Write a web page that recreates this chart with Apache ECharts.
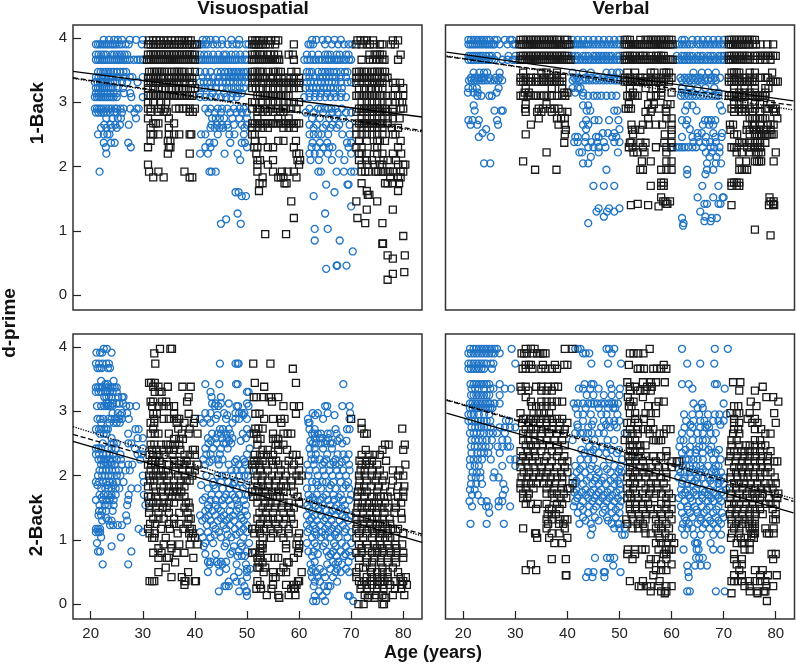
<!DOCTYPE html>
<html><head><meta charset="utf-8">
<script src="https://cdn.jsdelivr.net/npm/echarts@6/dist/echarts.min.js"></script>
<style>html,body{margin:0;padding:0;background:#fff}#c{width:796px;height:665px}</style></head>
<body><div id="c"></div>
<script>
// rows: [d-prime, [ages...]]
const visOneBlue = [
[3.97,[22.5,23.5,24.5,25.2,26,27.5,28.7,30,41.5,42.2,43,44,45.2,47,48.5,62.5,63.3,64.5,65.5,66.8,68]],
[3.9,[21,21.4,21.8,22.2,22.6,23,23.4,23.8,24.2,24.6,25,25.5,26,26.7,27.3,29.8,41,41.5,42,42.5,43.5,44.3,45.2,46.3,47.2,48,48.5,49.8,50.3,61.8,62.2,62.7,65,66.3,67.5,68.6,69.5,70.2]],
[3.74,[21,21.5,22,22.5,23,24,24.5,25,25.5,26,26.5,27,41,41.8,42.5,43.5,44.5,45.5,46,47,47.8,48.7,49.7,61.5,62.5,63.7,65,65.5,66,67.2,67.8,69,69.5]],
[3.66,[21,21.4,21.8,22.2,22.6,23,23.4,23.8,24.2,24.6,25,25.4,25.8,26.2,26.6,27,27.5,28.3,29,29.5,30,40.8,41.2,41.6,42,42.4,42.8,43.2,43.6,44,44.4,44.8,45.2,45.6,46,46.4,46.8,47.2,47.6,48,48.4,49,49.6,50,61,61.6,62.2,62.8,63.2,63.8,64.4,65,65.4,65.8,66.2,66.8,67.2,67.6,68,68.6,69,69.6,70]],
[3.47,[21.4,21.9,22.4,22.9,23.4,23.9,24.4,25,25.7,26.3,26.8,41,42,43,44.3,45,45.8,46.4,46.9,47.4,47.9,48.4,48.9,49.4,49.9,61.5,62,62.5,63.6,64.4,65,65.5,66,66.6,67.2,68,68.8,69.3]],
[3.39,[21,21.5,22,22.5,23,23.5,24,25,25.5,26.5,27.5,28,30,41.5,42.5,43.5,44.5,45.5,46,46.5,47,47.5,48,48.5,49,49.5,50,61.3,62,63,64,64.6,65.2,65.8,66.4,67,68,69]],
[3.31,[20.8,21.3,21.8,22.3,22.8,23.3,23.8,24.3,25,26,27,29,41,41.7,42.4,43.1,44,44.6,45.3,46,46.7,47.4,48.2,49,49.7,61.5,62.2,62.9,63.6,64.2,65,65.7,66.3,67,68,69.3,70]],
[3.22,[21,21.4,21.8,22.2,22.6,23,23.4,23.8,24.2,25.2,26.2,41.3,42,43,44,45.3,46.2,47,47.8,48.6,49.4,61.2,62,62.7,63.3,64,64.8,65.4,66,66.6,67.4,68.2]],
[3.14,[21,21.5,22,22.6,23.2,23.8,24.4,25,26.4,27.6,41,43.4,45.6,47.3,48.3,49,62,63.2,64.2,65.4,66.6,68.2]],
[3.08,[20.8,21.2,21.6,22,22.4,22.8,23.2,23.6,24,24.4,25,27.8,30,41,42,43,44,45,46,47,48,61,62,63,64,65,66,67,68,69]],
[2.9,[20.8,21.2,21.6,22,22.5,23,23.5,24,24.6,25,25.7,26.3,27.6,28.8,29.2,42,43,44.4,45.2,46.2,47.5,48.6,49.4,62,63.6,64.2,65,65.6,66.2,67,68.2]],
[2.84,[21,21.5,22,22.5,23,23.7,24.5,25,26,28.4,42.6,43.8,45,46.8,48,49,50,61.3,62.8,64.6,66.4,67.4,69,70]],
[2.75,[23,24.2,25.2,25.8,28.7,43.3,44,44.8,45.6,47.2,48.5,50,62.5,64,65.8,66.8,68.4]],
[2.65,[22.6,23.8,24.7,25.6,27.3,43.2,44.2,45.2,46.2,47.5,49,50,62,63.4,65.2,66.4,67.7,69.7]],
[2.6,[22,23,24,25,43,43.8,44.7,45.4,46.4,49.5,62.8,64.6,66,67.2]],
[2.5,[21.4,22.5,23.2,23.6,41.2,42,44.4,46.6,47.6,49.4,62,62.8,63.7,64.3,65.6,68.3,69.7]],
[2.37,[22.5,23.9,24.6,27.2,42.8,43.7,46.8,49,49.6,62.6,64,65.4,69.2,70]],
[2.3,[22.9,27.7,42,43,50,62.4,63.3,64.7,65.8,66.4,69.5]],
[2.2,[23,41,42.5,45.7,48.2,62,63,64,65.5,67.7,70]],
[2.1,[48.7,62.2,63.8,66.3,68.7]],
[1.92,[21.7,42.8,43.2,44,63.7,64.2,67.2,68.6,70,70.6]],
[1.72,[65.2,69.3,69.5]],
[1.6,[47.8,66.8,48.4]],
[1.54,[49,49.8,62.8]],
[1.38,[70]],
[1.27,[65,48.2]],
[1.18,[46]],
[1.11,[45,48.8]],
[1.03,[63,65.5]],
[0.85,[63,67.8]],
[0.68,[70.3]],
[0.46,[67.2,67.3,67.3,69.1]],
[0.41,[65.2]]
];
const visOneBlack = [
[3.96,[31.2,32,32.6,33.2,34,34.8,35.5,36.2,37,37.5,38,38.7,39.2,51,51.6,52,52.4,53,54,54.6,55.5,56,71.2,71.8,72.5,73,74.2,78,79]],
[3.9,[31,31.5,32,32.5,33,33.5,34,34.5,35,35.5,36,36.5,37,37.5,38,38.5,39,39.5,40,40.4,51,51.4,51.8,52.2,52.6,53,53.6,54.4,55.4,59,71,72,73,73.6,74.4,75.5,76,77.6,78.4]],
[3.74,[31,31.5,32,32.5,33,33.5,34,34.5,35,35.5,36,36.5,37,37.5,38,38.5,39,39.5,40,51,51.5,52,52.5,53,54,54.5,55.2,56,58,58.8,73.5,74.5,75,75.5,76,79.5]],
[3.66,[30.8,31.2,31.6,32,32.4,32.8,33.2,33.6,34,34.4,34.8,35.2,35.6,36,36.4,36.8,37.2,37.6,38,38.4,38.8,39.2,39.6,40,51,51.4,51.8,52.2,52.6,53,53.4,53.8,54.2,54.6,55,55.4,55.8,56.2,59,72,73.6,74.2,74.8,75.4,76,76.4,79]],
[3.47,[31.2,31.7,32.2,32.7,33.2,33.7,34.2,34.7,35.5,36,36.5,37,37.5,38,39,40,51,51.5,52,52.5,53,54,55,55.5,56,56.5,58.5,59.5,71,71.5,72,72.5,73,74,74.5,75,75.5,76,76.5]],
[3.38,[31,31.5,32,32.5,33,33.5,34,35,35.5,36,36.5,37,37.5,38,38.5,39,39.5,51,51.5,52,52.5,53,53.5,54.5,55,56,57,58,59,60,71,71.5,72,72.5,73,73.5,74,74.5,75,76,76.5,77]],
[3.3,[31,31.5,32,32.5,33,34,34.5,35,35.5,36,36.5,37,38,39,39.5,51,51.5,52,53,54,54.5,55,55.5,56,56.5,57,57.5,58,58.5,59,59.5,60,71,72,73,74,74.5,75,75.5,76,78,78.5,79.4]],
[3.22,[31,32,33,33.7,34.4,35,35.5,36.4,37,37.5,38.2,39.2,40,51,51.7,52.4,53,54,55,56,57,58,59,60,71.5,72.5,73.5,74,74.7,75.2,76,78.4,80]],
[3.1,[31,31.5,32,32.5,33,33.5,34,34.5,35,35.5,36,36.5,37,37.5,38,38.5,39,39.5,52,52.5,53,53.5,54,54.5,55,55.5,56,56.5,57,57.5,58,71,71.5,72,72.5,73,73.5,74,74.5,75,75.5,76,77,78,79,80]],
[3.0,[31,32,33.5,34.5,51,51.5,53,54,55,56,57,58,59,60,72,73,74,75,76,77,78.5,79.3,79.8]],
[2.9,[31,31.5,33,33.5,34.3,36.3,37,37.8,38.3,39,40,51,52,52.5,53.5,54.5,55.5,56,57,57.5,58.5,59.5,71.5,72,72.5,73,73.5,74,74.5,75,75.5,76,76.5,78,79.5,80]],
[2.85,[31.5,33,34,34.6,39,39.6,52,53,54,55,56.4,57,71,72,73,74,75,75.5,76,76.6,77,78]],
[2.75,[31,35,52,56,58,72,73,74,75,76,77,78,79.3]],
[2.67,[32,32.5,33,36,51,51.5,52,52.5,53,53.5,54,54.5,55,55.5,56,56.5,57,57.5,58,58.5,59,59.5,60,71.5,72,72.5,73,73.5,74,74.5,75,75.5,76,77]],
[2.6,[31.5,35,51,52,53,54,57,58,59,71,72,73,74,75,76,77.8,79]],
[2.5,[31.5,32,33,35,36,37,39,39.3,51,51.5,71,72,73,74,75,76,78,78.5]],
[2.4,[31.5,34.8,35.3,51.5,53,56,57,59.4,71.5,73,75,75.5,76.5,79.5]],
[2.3,[31,35,35.3,51.4,52,54,55,59,71,72,74.5,75,79]],
[2.2,[34.8,39,51.8,59.5,60,71.5,72,73,75,76,78,79.6]],
[2.1,[52,52.5,55,59.7,60.2,71.5,73,74,76.2,77,78.6]],
[2.03,[31,52,54,60,72,73,74.5,75.5,76,79,80,80.4]],
[1.92,[31.2,33,38,52,55,56.7,57.8,59,72,72.7,73.3,74.8,75.2,75.8,76.2,77,77.4,78,79.5,80]],
[1.83,[32,34,39,39.5,53,56,56.5,57,59.5,79.5,77.5,79]],
[1.74,[52.4,53,57.2,57.6,72,76.5,77,78,79.2]],
[1.62,[52.3,73,79]],
[1.56,[73.2,73.5]],
[1.46,[58.5,71,75]],
[1.33,[73,78]],
[1.2,[59,71.2]],
[1.12,[72.7,76]],
[0.95,[53.5,57.5]],
[0.92,[80]],
[0.8,[76,76.1,76.1]],
[0.62,[77,80.3]],
[0.57,[78]],
[0.36,[80.2]],
[0.33,[78]],
[0.24,[77]]
];
const verOneBlue = [
[3.97,[21,21.5,22,22.5,23,23.5,24,24.5,25,26,26.5,28,29,29.4,41,42,43,44,45,46,47,48,49,50,62,62.5,64,65,66,67,68,69,70]],
[3.9,[21,21.4,21.8,22.2,22.6,23,23.4,23.8,24.2,24.6,25,25.4,25.8,26,27,28.5,29.6,30,40.8,41.2,41.6,42,42.4,42.8,43.2,43.6,44,44.5,45,45.5,46,46.5,47,47.5,48,48.5,49,49.5,50,61,61.5,62,62.5,63,63.5,64,65,65.5,66,66.5,67,67.5,68,68.5,69,69.5,70]],
[3.72,[21,21.4,21.8,22.2,22.6,23,23.4,23.8,24.4,25,25.5,26.5,28.7,30,41,41.5,42,43,43.5,44,45,45.5,46,46.5,47,47.5,48,48.5,49.5,50,61,62,62.5,63,63.5,64,65,65.5,66,67,67.5,68,69,69.5,70]],
[3.66,[21,21.5,22,22.5,23,23.5,24,24.5,25,25.5,26,27.5,28.5,29.5,30,41.5,42,42.5,43,43.5,44,44.5,45,45.5,46,46.5,47,47.5,48,48.5,49,49.5,50,61,61.5,62,62.5,63,63.5,64,64.5,65,65.5,66,66.5,67,67.5,68,68.5,69,69.5,70]],
[3.46,[22,23.1,24,24.6,27,41,43,44.5,47.5,48.5,49.5,50,64.2,65.8,67,68.5]],
[3.38,[21.5,22.2,22.9,23.5,24,25,26.2,27,41.3,42,43.4,44.6,45.8,47,48,49,61.7,62.5,63.2,64,64.7,65.5,66.5,67.5,68.3,69.3]],
[3.34,[21.1,21.6,22.1,22.6,23.1,23.6,24,24.6,25.3,26,26.7,27.5,41,41.7,42.3,42.9,43.5,44.2,44.8,45.5,46.2,46.9,47.6,48.3,49,49.5,50,62,62.8,63.5,64.3,65,65.7,66.4,67,67.7,68.5]],
[3.22,[21,21.8,22.6,26.8,41,42,42.5,62,63.5,65,66.5,68.2]],
[3.15,[20.9,22,22.8,26.4,41.5,43,62,63,64,69]],
[3.1,[22.7,23.5,25,25.5,43,44,45,45.7,46.5,47.5,48.5,49.4,61.8,62.5,63.3,64,64.7,65.5,66.2,67,67.8,68.5,69]],
[2.95,[22,43,44,63,64,69.3]],
[2.87,[22.2,26,27.3,27.6,43.7,44.4,49,49.6,62.6,64.8,69.7]],
[2.72,[21,21.8,23,26.5,43.6,45.2,46,48,49.8,62,63,66.4,67,67.6,68.4]],
[2.65,[21.4,22.7,26.7,43,44,66,67.2,68,62.8]],
[2.58,[24.4,43.6,50,63.5]],
[2.52,[23.7,46.8,47.8,49,65,65.8,68,69.7]],
[2.46,[23,25.3,41.5,42,43.5,45.5,46,48.6,49.4,62,64,65,66.6,68.4,69.6]],
[2.38,[41.3,42,43.4,44.6,45.7,47,49,50,64.2,65.3,66.5,67.4,68.5]],
[2.3,[44,45,46,47.3,60,61,61.5,62,62.5,63.2,64,64.7,66,67.5,68.2,69.2]],
[2.22,[42.3,42.8,46,49.7,66.6,67.7,69.2]],
[2.15,[44.5,67.3,68.6]],
[2.05,[24,25.2,43,44,66.8,68.5,69.5]],
[1.95,[47.5,63,66.8,68]],
[1.88,[63,66.5]],
[1.7,[45,47,49,65.9,69]],
[1.52,[65,68,69.8,70]],
[1.42,[66.3,66.8,69,69.4]],
[1.35,[46,48,50]],
[1.3,[45.6,47.6,49,65.5]],
[1.22,[47,66.5]],
[1.2,[62,67.7,68.7]],
[1.15,[66.3,67.5]],
[1.12,[44,62.3]],
[1.08,[62.2]]
];
const verOneBlack = [
[3.97,[31,31.5,32,32.5,33,33.5,34,34.5,35,35.5,36,36.5,37,37.5,38,38.5,39.5,40,51,51.5,52,54,55,55.5,56,56.5,57,57.5,58,58.5,59,59.5,60,71,71.5,72,72.5,73,73.5,74,74.5,75,75.5,76]],
[3.9,[30.8,31.2,31.6,32,32.4,32.8,33.2,33.6,34,34.4,34.8,35.2,35.6,36,36.4,36.8,37.2,37.6,38,38.4,38.8,39.2,39.6,40,40.4,51,51.4,51.8,52.2,52.6,53,53.4,53.8,54.2,54.6,55,55.4,55.8,56.2,56.6,57,57.4,57.8,58.2,58.6,59,59.4,59.8,60.2,71,71.4,71.8,72.2,72.6,73,73.4,73.8,74.2,74.6,75,75.6,76.2,77,78.4,79.5]],
[3.72,[31,31.5,32,32.5,33,33.5,34,34.5,35,35.5,36,36.5,37,37.5,38,38.5,39,39.5,40,51,51.5,52,52.5,53,54,54.5,55,56,57,57.5,58,58.5,71,71.5,72,72.5,73,73.5,74,74.5,75,76,76.5,77,77.5,78,78.5,79,79.5,80]],
[3.66,[31,31.4,31.8,32.2,32.6,33,33.4,33.8,34.2,34.6,35,35.4,35.8,36.2,36.6,37,37.4,37.8,38.2,38.6,39,39.4,39.8,40.2,40.6,51,51.4,51.8,52.2,52.6,53,53.4,53.8,54.2,54.6,55,55.4,55.8,56.2,56.6,57,57.4,57.8,58.2,58.6,59,59.4,59.8,60.2,71,71.4,71.8,72.2,72.6,73,73.4,73.8,74.2,74.6,75,76,77,78,79]],
[3.46,[31.5,35,36,38,51.5,53,56,56.7,58.5,59,59.5,71.5,72,72.5,73,75,76,79.3]],
[3.38,[31,32,33,34,35.5,36.5,37,38,39,51,52,53,54,55,56,57,58,59,60,71,72,73,74,75,76,77,78,78.5]],
[3.32,[31,31.5,32,32.5,33,34,34.5,35,35.5,36,36.5,37,37.5,38,38.5,39,51,51.5,52,52.5,53,53.5,54,54.5,55,55.5,56,56.5,57,57.5,58,58.5,59.5,71,71.5,72,72.5,73,73.5,74,74.5,75,75.5,76,79,79.5,80,80.4]],
[3.22,[32,37,39,52,55,57,58,72,74,76,78,78.6]],
[3.15,[31.8,32.6,39.4,40,52.6,58,60,72,73,74,75,76,78]],
[3.1,[31,31.5,32.5,33,33.5,34,35,35.5,36,37,38,39,39.6,51.5,52,52.5,53,53.5,56,57,58,71,71.5,72,72.5,73,73.5,74,75,75.5,76,76.5,77,77.5,78]],
[2.97,[32,36,51.8,55.5,56.6,59.2,59.8,72,73,74,76,77,79]],
[2.9,[31.9,34.5,35.3,36.7,37.5,38.3,51.2,51.7,52.2,56.2,57.6,58.9,71.5,72,73,73.5,74,75,76,78,78.6,79.5,80]],
[2.85,[32,34.2,35,37,39,40,55,56,59,72,73.5,74.2,75.5,77,79.7,80]],
[2.75,[34.5,38,38.8,39.5,55.5,59,60,75,75.5,76,77,77.5,78,80.3]],
[2.65,[33,38.3,39.5,52.3,54.5,55.6,57,58.2,60,71.2,71.8,74.5,75.5,76,77,78.5,79,79.6]],
[2.57,[39.7,52.4,53,54,60,71.3,74.4,75,75.8,76.2,76.8,77,77.8,78.2,79]],
[2.5,[32,39.5,52.6,58.7,60,72,72.6,75,76,76.4,76.8,77.2,78,78.4,78.8,79.2,79.6]],
[2.37,[39.4,52,52.3,54,55,58.6,60,73,73.5,74,75,76,76.5,77,78]],
[2.3,[51.8,52.5,54.5,57,59,60,71.5,72,72.5,74.5,75.3,76,76.5,77]],
[2.22,[36,52.7,53.4,54.8,59,72.5,73.5,75,76.2,76.7,77.2,80]],
[2.08,[31.5,54.3,56,59,60,73,74.3,76,76.4,76.8,77.2,79.6]],
[1.95,[33.8,37.9,54,54.5,58,59,60,73,73.5,74,74.5]],
[1.75,[58,58.5,71.5,72,72.5,73]],
[1.7,[56,58,58.5,71.5,72.5,73]],
[1.52,[58,78.8]],
[1.46,[58.4,58.8,59.7,79,79.6]],
[1.42,[53.5,59,59.2,79.5]],
[1.4,[52.2,55.5,71.5,78.7,79.7]],
[1.38,[57.5]],
[1.02,[76]],
[0.93,[79]]
];
const visTwoBlue = [
[3.97,[22.5,23.1]],[3.91,[21.1,21.8,22.2,24]],[3.74,[21,21.6,22.3,23,23.5,44.8,47.8,48.2,48.4]],[3.67,[21.3,21.7,22.1,23.3,23.7]],
[3.47,[22,24.4]],[3.42,[22.8,23.3,44.7,47.9,48.2,42,68.5]],
[3.37,[21,21.4,21.8,22.2,23,23.4,23.8,24.2,24.6,25]],[3.3,[21,21.5,22,22.8,23.2,23.7,24.2,25,43,50,50.3]],
[3.22,[22.6,23,23.5,24,25.3,26,26.3,43.2,45]],[3.12,[23,23.4,24.2,25,25.5,26.2,43.3,44,45,46.5,50]],
[3.08,[21.2,22,22.6,23,23.4,23.8,24.2,26.8,27.5,28.7,43.8,44.5,48,48.3,50.3,65,65.4,68.3,69.7]],
[2.97,[24.2,25.2,26,27,42,43,45.6,47.8,48.5,49,49.5,62.6,63.6,65.5,69.8]],
[2.88,[21.3,21.8,22.4,23.4,24,24.6,25,25.5,26,27.3,41,42.4,44,46,47.8,48.5,50,61.7,64.6,69.7]],
[2.82,[22,23.6,24.4,25,25.6,41.6,43,47.2,61.8,62]],
[2.72,[21,21.6,22,22.6,23,23.3,28.6,29.2,44.8,45.4,46.5,50,62,63,67,69.7,69.2]],
[2.65,[21.8,22.5,23,27.2,43.3,44.4,45,46,46.8,49.2,50.6,62.5,63,63.6,64.2,65.5,66,67.2]],
[2.58,[24,29,30,42.5,44,45.2,46.2,47.2,49.8,63,64,64.5,65.6,67.8]],
[2.5,[22.3,24,24.4,25,27.2,27.8,42.6,44.2,45.5,46,47,62.6,63.2,64.2,65,66,66.5,68.3]],
[2.42,[21,21.5,22,23.3,24,24.8,28.5,30,42,43.5,45,46.3,50.5,62,63,64.6,66.3]],
[2.33,[21,21.6,22.4,23,23.6,24.4,25.7,29,29.8,42.2,43,44.8,50,62.3,63.2,65.4,67.4,68.5,69.5]],
[2.25,[21.5,22,22.5,23,23.6,24.2,25,25.8,29.5,41.6,43.4,44.4,45.3,48,49.3,62.4,63,64,65.2,67,69]],
[2.17,[22,22.5,23.2,24,24.6,26,27.2,28,42,44.6,46.5,48.4,49.7,61.6,62.8,64.5,66,67,67.7,69.6]],
[2.08,[21.7,22.3,23,23.5,24.1,24.8,25.4,26.7,27.5,47,48,49,50.4,62,63.2,64.7,65.8,67.3,68.4,69.7]],
[2,[21.4,22.2,22.8,23.4,24,25,25.7,30,42.2,44.3,45.2,46,47.3,48.5,49.5,50.2,61.8,63.6,65,66.4,67.7,69]],
[1.9,[21,21.6,22.4,23,23.6,24.2,25,26.3,30.2,43.5,45,46.4,47.6,48.8,62.5,63.3,64.5,65.2,66.6,68,69.4]],
[1.8,[22,22.8,23.4,24,24.8,25.5,27.8,29,42.5,44,45.3,46.7,48,49.2,61.5,62.5,64.2,65.8,67,68.5,69.6]],
[1.7,[21.7,22.5,23.3,24,24.8,27.3,30.2,43.2,44.6,46,47.2,48.5,49.7,50.2,61.8,63.4,65.2,66.6,68,70]],
[1.62,[21,22.3,23,23.6,24.4,27.2,41.5,43,44,45.2,46.5,48,49.4,62,63,64,65.6,66.7,68.4,69.6]],
[1.54,[21.7,22.7,23.4,24.4,27,30.5,42.5,44,45.5,47,48.2,49.8,61.6,63.2,64.5,66,67.2,68.8]],
[1.45,[21.6,22.2,23,24.2,42,43.4,45,46.7,48,49.6,62.5,64,65.2,66.4,67.6,69]],
[1.38,[21.5,22,26.8,41,42.6,44,45.6,47.3,48.8,50,61.5,63,64.3,65.7,67,68.3,70]],
[1.3,[22.2,23.4,24,27,41.4,43,44.4,46,47.5,49.4,62,63.4,64.8,66.2,67.8,69.4]],
[1.23,[23.7,24.3,25.2,26,42.3,43.5,45.5,46.7,48.5,50,61.5,62.8,64,65.6,66.8,68.4]],
[1.17,[21,21.4,21.8,29.2,44,46,47.7,49.3,62,63.2,65,66.3,67.5,69]],
[1.12,[21,21.5,21.8,30,41,42.5,44.6,48.6,50,61.6,63,64.4,65.7,67.2,68.8,70]],
[1.04,[22,25.8,41.5,43,45,47,49.3,62.5,64.2,66,67.6,69.3]],
[0.95,[21.2,42,43.5,46,48.8,50.4,61.5,63,65,66.7,68.2,70]],
[0.9,[24,41.7,45.7,47.5,49,63.4,64.6,67,69]],
[0.82,[21.4,21.8,27.8,47.2,48.4,50,61.8,62.8,65.3,66.5,68,69.6]],
[0.75,[48.2,49,49.6,62.5,65.7,67.2,68.6,70]],
[0.66,[42.5,43,44.2,45,46,63,66.5,67.5,69.5]],
[0.62,[22.3,27.2,42.8,44.5,45.3,48,49.8,62.2,65.4,67,68.2]],
[0.55,[46,50,50.6,62.5,64,66,67.3,69]],
[0.5,[42.5,44.7,48.4,50,62.3,63.2,64.7,67,68,69.6]],
[0.42,[47.5,50,62.5,63.5,65,66.5]],
[0.35,[46.5,48,49,63,64,67.3]],
[0.28,[45.7,46,46.5,49.5,62.8,64.8,65.6,66]],
[0.2,[44.6,48.5,49.8,50,63.8,65.3]],
[0.13,[50,63,64.5,69.4,69.7]],
[0.05,[62.7,63.3,65,70.4]],
[2.94,[25.7,44.3,46.2,49.3,63.1,66.8]],[2.54,[43.1,46.6,48.8,62.2,65.2,67.4,69.1]],
[2.21,[22.7,23.9,42.8,47.7,49.6,64.8,66.6,68.2]],[1.85,[21.3,23.2,24.4,41.2,43.6,47.3,49.9,63.6,66.1,69]],
[1.66,[22.1,23.9,42,45.7,47.7,62.6,64.6,67.6]],[1.49,[42.6,44.4,48.5,61.9,63.7,66.9,68.2]],
[1.34,[23,42,45,46.6,49,62.4,65.1,68.9]],[1.08,[43.8,46.3,47.9,63.3,65,66.9]],[0.78,[42,44,46.8,63.6,66.1,68.9]]
];
const visTwoBlack = [
[3.97,[33.3,35.3,35.6]],[3.9,[32.2]],[3.74,[32.4,51.2,54.5]],[3.66,[58.8]],
[3.44,[31.2,31.6,32.3,51.5,59.4]],[3.38,[32,33,34.8,37.6,39.2,53.3]],[3.3,[32.3,33.6,33.2]],
[3.22,[38.8,51.3,51.8,53.2,54.2,54.6,56]],[3.15,[31.5,32,33.7,34.5,38.5,54.8]],[3.08,[31.8,33,34,35,36,57,59,60]],
[2.96,[32,32.7,36,38.8,51.6,52.4,59.4]],[2.88,[32.2,34,35,36,36.6,37,40,53.3,55,56.5,57.2,70]],[2.82,[31.5,32.2,36.5,38,39.8,56.6,72]],
[2.73,[32,36.8,39,51.6,52.2,53,72,79.8]],[2.65,[31.5,32.3,33,35,37.5,38.8,40.5,51.3,51.8,55,57,57.8,58.5,72.5,73]],
[2.57,[36,37,37.7,52,52.6,55,55.5,56]],[2.48,[31.5,32.2,33.5,34.5,35.3,36.2,37,52,55.5,56,57,76.5,77.2,80.3]],
[2.4,[31.8,32.6,34,35,36,37.2,39.6,40,53,54,56,57.7,72.8,76,80]],
[2.32,[31.3,32,33,34,35.7,38,39,40,51.5,52.5,53.2,54,55,58.8,59.5,72,73.5,74.5,75.5]],
[2.23,[31.8,32.4,33.2,36,37.3,38.4,51.3,52,53,54.8,55.6,58,60,71.6,73,74,76.7]],
[2.17,[31,31.6,32.4,33.4,35,36,37,38,39,40.5,51,51.6,52.4,53.6,55,56,57.3,59,72,72.8,73.5,75,80.4]],
[2.08,[31.5,32.5,33.5,34.5,36.2,37.6,39,40,51.3,52.5,54,56.5,58.6,60,71.8,72.6,74,75.5,78,79.3]],
[2,[31.2,32,33,34,35,36.8,38,39.5,52,53,54.8,56,57.5,59.5,60.5,71.5,72.6,74,75,76.3,79,80]],
[1.92,[31.4,32.2,33.4,34.6,36,37.3,38.4,39,51.5,52.8,54,55.6,57,58.5,60,71.6,73,74.7,76,78]],
[1.83,[31,32,34,35,36,37,38,52,53,54,55.5,56.5,57.5,58.5,71.5,72.5,73.8,75.3,76.5,79,80.2]],
[1.75,[32.5,33.5,35,35.8,36.6,37.4,51,51.6,52.3,53.4,54.8,56,57,59,71.3,72,73,75,77.5,80]],
[1.67,[31,31.6,32.6,34,35.6,36.3,37,38,51.2,52,53,54,55,55.7,56.3,59.7,71.2,72.5,74,75,75.7,76.3,77,79,80]],
[1.58,[31.2,32,33,34,35,36,38.3,38.8,52,53.5,54.5,55.5,57,58,60,71.3,72.2,73.4,74.4,75.3,76.5,78.5,79.6]],
[1.5,[31.3,32.5,33.8,34.6,38,39,53,54,55.4,56.6,58,59,71.2,72,73,74,75,76,77,78.6]],
[1.42,[31.2,33,35,37,38.6,52.4,53.6,55,57,58.4,71,72.3,73.6,74.8,76.4,78.3,79.6]],
[1.33,[32,33,34,36,38.8,39.2,52,53,54,55,56,57.5,58.5,71,72,73,74,75,76,77.4,79.7]],
[1.25,[31.4,32.4,35,36,37,38.6,52.5,54,55.5,57,59,71.2,72.4,73.6,74.7,75.5,76.5,77.5]],
[1.17,[31,33.5,35.2,37.8,39,39.4,51,51.6,52.3,53.3,54.5,56,58,71,72,73,74,75,76,77,78,79]],
[1.1,[31.3,32.3,36.7,38.9,39.6,51.4,52.5,55,56.6,58,60,71.5,73,74.5,75.5,76,77,80]],
[1.03,[31.8,32.2,34.4,39.3,40,53,54.6,57,59.7,71,72.3,74,75.5,76.5,77.5,78.5]],
[0.93,[34,35.4,37,39,40.5,52.5,53,57.5,59.5,60,71.5,73,74.5,75.5,77,78.5,79.8]],
[0.87,[33,35.5,52.6,53,57.5,60,72,73.3,75,76,77.3,78.7]],
[0.8,[32,33.6,36.5,38,51,51.6,52.5,59.8,71,72,74,75,76,77.6,78.6,80]],
[0.72,[33,34.6,35,39.7,52,52.5,54,55.3,56,59,71.5,73,74.5,75.7,77,78.5,80]],
[0.65,[36.2,52.2,53,57.7,58,73,74,75.7,77,78.6]],
[0.57,[34.4,52,52.4,53.5,57,71.5,72.3,74,76,78]],
[0.5,[33,38.7,53.2,55,56.5,57.5,60.5,71,73.8,75,76,77,79]],
[0.42,[35.5,37.5,55,55.5,71,73,74,75,76,77,79.5,80.5]],
[0.36,[31.3,31.8,32.2,38,38.2,40,40.2,52,59.8,60,71.5,72.5,73.7,75,75.6,76.4,77,78.5,79.5,80]],
[0.3,[38,52.5,55,57.5,59,59.5,72,73,74,75,76,77.5,79.8,80.7]],
[0.24,[51.8,52.7,54.7,58.5,59,59.2,71.8,73,75,76.2,78.4,79.6]],
[0.14,[53.8,56,58,59.3,72.6,73.5,74.7,76,78,80.2]],
[0.1,[56.2,73.2,74.5,76.4,76.7]],
[0,[71.4,72.4,76,76.3]]
];
const verTwoBlue = [
[3.97,[21.3,22,22.5,23,23.5,24,24.5,25,25.5,26,26.5,29.3,41.5,42,42.5,47.5,48,49,62,68.3,70.8]],
[3.9,[21,21.5,22,22.5,23,23.5,24,24.5,25,25.5,26,27,43,43.5,44.2,48.5]],
[3.74,[21,21.5,22,22.5,23,23.5,24,24.5,25.3,25.8,30,44.6,47.8,50.3,63,65.5,68.2]],
[3.66,[21,21.5,22,22.5,23,23.5,24,25.5]],
[3.42,[21.4,22,22.5,23,23.5,24,24.5,25,27,43.3,44.6,45,48.2,62,63.3,68.3,68.7]],
[3.35,[21.6,22.3,23,24,25.2,25.8,28,29.2,42.2,43,44.4,46,48.5,50.1,64,70.2]],
[3.25,[21.5,22,22.5,23,23.5,24,24.5,25,27,43.7,45,47,48.5,50]],
[3.12,[21.3,21.8,22.3,22.8,23.3,23.8,24.3,24.8,25.2,26,27,41.2,42,43,44,44.6,45.1,45.7,46.5,47.2,48,48.6,49,49.7,64.2,65.8,70]],
[3.05,[21.3,21.8,22.3,22.8,23.3,23.8,24.3,24.8,25.2,25.6,41.6,43.5,46,47.8,48.8,49.2,65,66]],
[2.95,[21,21.5,22,23,24,25,42,43,44.5,46.5,47.5,49.6,62.4,64,65.3,67,68.3,69.2,70.5]],
[2.85,[21,21.6,22.3,22.9,23.4,24,24.5,25.2,28.2,28.8,43,45,47,48,49,50,62.8,64.2,65.5,66.3,68,69,70]],
[2.75,[21.6,22.3,23,23.5,24,24.6,25.3,27,28,29,30,42,44,46.5,48.2,49.5,62.5,64,65.5,66.5,67.2]],
[2.66,[21.3,22,22.6,23.3,24,25,25.7,26.5,28,41.5,42.5,43,44,44.7,46,47,51,62,63.6,65,66,67.5,68.5]],
[2.55,[21.6,22.3,23,23.7,24.5,25.5,27.5,28.5,41,43.6,45.2,47.7,49,61.7,62.3,64,65.2,66,66.6,68]],
[2.45,[21.5,22.2,22.8,23.6,24.3,25,26.6,27.5,28.5,29,44.2,45.5,46.7,47.7,61.5,63.5,65.3,66,67.6]],
[2.35,[21.6,22.7,23.4,24,24.8,27,43.3,44.4,46,47.5,49.5,62,63.5,64.6,66,67.6,68.5]],
[2.25,[21.3,22,22.8,23.6,25.3,29,30,42.5,44,45,48,50.5,62,62.7,63.3,64.2,65,66,68,69.4]],
[2.15,[21.3,22.2,23,27.5,30,41.5,43,44.7,47,49,50.3,62,62.8,63.5,64.7,65.5,67,68.5,69]],
[2.05,[21.8,22.6,23.3,26,41.8,43.4,46,48.3,49.8,50.4,61.7,62.5,63.5,64.5,65.5,66.5,67.7,68.5,69.5]],
[1.97,[21.6,22.4,23.3,25.8,26.8,41,42.5,44.4,45.5,47,49,50.2,61.3,62.5,63.6,65,66,67,68,69,70]],
[1.87,[21.5,22.5,23.6,27.7,41.5,43,44.8,46,47.4,49,50,62,63,64,65,66.5,68,69,70]],
[1.78,[21.3,22.2,28,41.7,43.5,45,46.5,48.3,50,61.8,63,64.7,66,67.2,69.2,70.5]],
[1.7,[21.7,22.8,27.6,42,43.6,45.5,47,48.6,50.4,62,63.3,64.8,65.8,67,68.5,70]],
[1.6,[21.2,23.5,24.5,26.8,27.5,41.5,43,44.8,46,47.5,49,50.3,62.5,64,65.3,67,68,69.5]],
[1.52,[21.7,24.4,24.9,26.8,29,41.2,42.5,44.2,45.5,47,48.5,50,61.8,63,64.5,65.8,67.3,69]],
[1.42,[25,42,44,46.8,48.6,50,62,63.5,65,66.2,68,69.7]],
[1.35,[43,45.3,47.6,49.3,62.5,64,65.5,67,68.5,70]],
[1.25,[21.4,24.5,27.8,42.3,44.5,48.5,49.7,50,62.2,63.3,65,66.5,68,69.5]],
[1.18,[44.8,49,50,51,62,63,64,66,67.3,68.8]],
[1.08,[44.5,51,50.5,62.5,64.3,65.6,68,69.5]],
[0.95,[64.5,65,64.8,67.5]],
[0.85,[62.3,64.8,65.2,68,69.5]],
[0.72,[45.3,47.6,48.2,49,64.7,65.3,66]],
[0.6,[48.8,63,64.5,65.6,66.8]],
[0.5,[44,45,47,47.2,50.2,63.2]],
[0.42,[43.6,44.8,47.1,63.3]],
[0.2,[63,63.5,68.5,70.2]],
[2.79,[41.9,44.7,47.4,49,63.6,66.9,69.4]],[2.4,[42.7,45,48.4,49.9,62.7,64.8,67.1,69.1]],
[2.1,[42.4,44.4,45.6,47.6,50,61.4,64,66,68.1]],[1.92,[41.7,43.7,45.2,46.6,48.3,49.7,62.1,64.5,67.4,69.4]],
[1.74,[41.3,42.8,44.4,46,47.7,49.4,62.6,64.2,66.4,68,69.6]],[1.65,[41.9,44,45.2,46.7,48.1,49.7,61.4,63.6,65.9,67.6,69.1]],
[1.47,[43,45,47.2,49.3,63.1,64.8,66.7,68.6]],[1.3,[43.5,46,47.8,62.8,65.6,67.4,69]]
];
const verTwoBlack = [
[3.97,[32,33,33.7,39.5,41,55.8]],[3.9,[31.2,31.7,32.2,33.3,34.2,34.8,35.3,35.8,52,52.7,53.6,54.6]],
[3.72,[32,32.6,33,35.3,37.6,39.4,40,51.8,58.5]],[3.66,[31.4,32,33.3,35,35.8,37,38,53.5,54,54.7,56.5,57.2,58,59]],
[3.45,[71.8,73.2,51.5,54.5,56,57,58.7]],[3.38,[31,32,34,35,36.3,37.5,38.2,52,53,55.3,56.2,77.5]],
[3.32,[31.2,32.5,35,36,37,52,53.5,54,55,56,73,76]],[3.22,[32,51.6,54.5,78.2,79.5]],
[3.15,[33,35,36,37,38,39,52,52.7,57.5,58.5,75.2,80.5]],[3.08,[33.2,34,35,36,37,51.8,52.3,55.5,57,72,72.8,76.3]],
[2.97,[31,33.5,34.5,35.5,36.5,52,53,55,56,57,71.3,72.5,73,75,79.7]],[2.88,[31.5,32,33,34,35,36,37,38,39,53,54.7,74.6,76,72]],
[2.82,[31.3,32.5,33.5,34.7,36,37.2,38.5,40,51.5,52.2,53.6,56,72,73,75.5,76.5,80]],
[2.72,[32,33,34,35,36,37,38.5,39.5,52,53.5,54.5,55.5,56.5,59,59.8,72,72.8,77.2,76]],
[2.65,[31.5,32.5,33.5,35,36.5,38,39.3,51.5,52.5,53.5,55.8,57.7,58.5,71.8,73,78,79]],
[2.55,[31.5,32.5,33.7,34.8,36,37.5,39,51,52,53,56.5,57,57.5,58,71.5,72.5,76,77]],
[2.47,[32,33,34,35.3,36.5,38,39.5,52,52.5,53.4,54,55,71.5,73,74.2,75,76,77.2,78]],
[2.38,[31,32.4,33.5,35,37,38.3,52,53,54,59,71.3,72,73.4,74,75,76,77,79]],
[2.3,[31.5,32.6,33.8,36,38,39.4,51.7,52.5,53.5,55,56.5,58,59,71.3,72.5,74,75,76,77.5,78.5]],
[2.22,[31,32,33.3,34.5,35.5,37,39,40,52,53,54.5,57,60,61,61.5,71,72.3,73.5,74.6,76,77,78.5,79.7,80.3]],
[2.13,[31,32.5,33.5,35,36.5,38,39.5,52,52.5,54,55,56,57.6,58.7,60,72,73,74,75,76.2,77.3,78.5]],
[2.05,[31.6,32.6,34,35,36,37.5,38.8,40,52,53,54.6,55.6,57,59,71.4,72.4,73.5,74.7,75.7,77,78,79]],
[1.97,[31.2,32.3,33.4,34.6,35.8,36.8,38,39,51.5,52.6,53.6,55,56.5,58,59,71.3,72.6,73.8,74.6,76,77,79.8]],
[1.88,[31,32,33,34,35.5,36.5,37.6,39,41,52,53,54.2,56,57,58.5,72,73,74,75.2,76.4,78,79,80]],
[1.8,[31,32,33.5,36,37.5,38.8,40,40.5,51.5,52.6,55,56,57.3,59,71.2,72.4,73.6,74.8,76,77.2,78.3,79.4]],
[1.72,[31.5,32.6,36,37,38,39.3,52,53,54.5,55.7,57,58,59.5,71.4,73,74.5,75.5,76.5,77.5,79.8,80.5]],
[1.65,[31.5,32.3,37.5,38.7,39.8,51.5,52.3,53.5,55,56.7,59,60,71.3,72.5,73.7,75,76,77,78.7,80.3]],
[1.56,[32,33,34.3,36,38,39,52,53,54.5,55.5,58,59,71,72,73,74.3,75.5,76.8,78,79,80]],
[1.48,[34,36.5,37,38.5,52,53,54.5,56,57.3,59,60,71.5,72.5,74,75,76,77,79.4]],
[1.4,[36.2,37,37.8,52.3,53.7,55,56.5,58,59.5,71.2,72.3,73.5,75,76,77.5,80]],
[1.32,[36,37,38.5,39.5,40,51.3,52.5,54,55,57,58.2,60,71.5,73,74,75,76,79.5,80]],
[1.25,[36.3,38.4,39.2,51.5,53.5,54.5,57.5,59,71.5,72.4,73.5,74.8,75.5,76]],
[1.18,[31.5,36,39.5,52.5,53.6,54.8,57,58,59.5,72,73,75,75.5,76,78,79.6]],
[1.1,[33.8,34,37,38.5,55,56,57.5,58.8,71.6,73,75.3,75.7,76,78.3,78.7,79.6]],
[1.03,[34.2,36.5,40,57.7,59.5,60,71.4,73.3,74,75.3,75.8]],
[0.95,[37.5,39,60.5,57,58,59,72.5,73.5,74,75]],
[0.85,[51.6,53,54.3,55,57.5,59,59.5,60,74,75]],
[0.78,[51.5,53,59,58.5,72,79.2,80]],
[0.7,[39.7,37,52.5,56,57,59,72,73.5,79.5]],
[0.62,[33,55.7,58,60,72.5,73.5]],
[0.53,[32,34,57,58,59,73,76,77.5]],
[0.45,[39.7,39.8,56.5,72,73.5,77,78.5,80.2]],
[0.36,[52,54.5,57.7,71.5,72,72.7,73.5,75,76,77,78]],
[0.28,[53.7,54.2,55.3,56,57.5,59,60,74,75,78.2,79.5]],
[0.2,[56,58,59,75,76.5,77.7,78]],
[0.17,[58.7,71.5,76.5]],
[0.05,[78.3]]
];
const visOneLines = [
 {type:'solid', pts:[[16.6,3.48],[83.6,2.77]]},
 {type:'dashed', pts:[[16.6,3.38],[83.6,2.56]]},
 {type:'dotted', pts:[[16.6,3.37],[83.6,2.54]]}];
const verOneLines = [
 {type:'solid', pts:[[16.8,3.78],[83.4,3.02]]},
 {type:'dashed', pts:[[16.8,3.71],[83.4,2.95]]},
 {type:'dotted', pts:[[16.8,3.72],[83.4,2.88]]}];
const visTwoLines = [
 {type:'solid', pts:[[16.6,2.53],[83.6,0.96]]},
 {type:'dashed', pts:[[16.6,2.64],[83.6,1.09]]},
 {type:'dotted', pts:[[16.6,2.76],[83.6,1.06]]}];
const verTwoLines = [
 {type:'solid', pts:[[16.8,2.97],[83.4,1.42]]},
 {type:'dashed', pts:[[16.8,3.17],[83.4,1.6]]},
 {type:'dotted', pts:[[16.8,3.18],[83.4,1.64]]}];
const ageTicks = [20,30,40,50,60,70,80];
const dTicks = [0,1,2,3,4];

const toPoints = rows => rows.flatMap(([d, ages]) => ages.map(a => [a, d]));
const FONT = '"Liberation Sans", Arial, sans-serif';
const panels = [
 {blue:visOneBlue, black:visOneBlack, lines:visOneLines, left:73, top:25, xl:false, yl:true},
 {blue:verOneBlue, black:verOneBlack, lines:verOneLines, left:445.5, top:25, xl:false, yl:false},
 {blue:visTwoBlue, black:visTwoBlack, lines:visTwoLines, left:73, top:334, xl:true, yl:true},
 {blue:verTwoBlue, black:verTwoBlack, lines:verTwoLines, left:445.5, top:334, xl:true, yl:false}
];
const grid=[],xAxis=[],yAxis=[],series=[];
panels.forEach((p,i)=>{
 grid.push({left:p.left,top:p.top,width:349,height:285,show:true,borderColor:'#333',borderWidth:1.5});
 xAxis.push({type:'value',gridIndex:i,min:16.6,max:83.6,splitLine:{show:false},axisLine:{show:false,onZero:false},
  axisTick:{show:p.xl,inside:true,length:8,customValues:ageTicks,lineStyle:{color:'#222',width:1.2}},
  axisLabel:{show:p.xl,customValues:ageTicks,margin:7,color:'#222',fontSize:15,fontFamily:FONT}});
 yAxis.push({type:'value',gridIndex:i,min:-0.23,max:4.2,splitLine:{show:false},axisLine:{show:false,onZero:false},
  axisTick:{show:p.yl,inside:true,length:8,customValues:dTicks,lineStyle:{color:'#222',width:1.2}},
  axisLabel:{show:p.yl,customValues:dTicks,margin:6,color:'#222',fontSize:15,fontFamily:FONT}});
 series.push({type:'scatter',xAxisIndex:i,yAxisIndex:i,symbol:'circle',symbolSize:7,silent:true,animation:false,large:false,
  data:toPoints(p.blue),itemStyle:{color:'rgba(0,0,0,0)',borderColor:'#1f74c6',borderWidth:1.3,opacity:1}});
 series.push({type:'scatter',xAxisIndex:i,yAxisIndex:i,symbol:'rect',symbolSize:7,silent:true,animation:false,large:false,
  data:toPoints(p.black),itemStyle:{color:'rgba(0,0,0,0)',borderColor:'#1a1a1a',borderWidth:1.3,opacity:1}});
 p.lines.forEach(l=>series.push({type:'line',xAxisIndex:i,yAxisIndex:i,data:l.pts,showSymbol:false,silent:true,animation:false,z:5,
  lineStyle:{color:'#000',width:1.3,type:l.type}}));
});
const txt=(text,x,y,rot,size)=>({type:'text',x,y,rotation:rot?Math.PI/2:0,silent:true,
  style:{text,fill:'#111',font:'bold '+size+'px '+FONT,textAlign:'center',textVerticalAlign:'middle'}});
const chart=echarts.init(document.getElementById('c'),null,{renderer:'canvas'});
chart.setOption({animation:false,backgroundColor:'#fff',grid,xAxis,yAxis,series,
 graphic:[txt('Visuospatial',253,9,false,19),txt('Verbal',621,9,false,19),
  txt('1-Back',38,113,true,19),txt('2-Back',37,525,true,19),txt('d-prime',10,323,true,19),txt('Age (years)',433,653,false,18)]});
</script></body></html>
